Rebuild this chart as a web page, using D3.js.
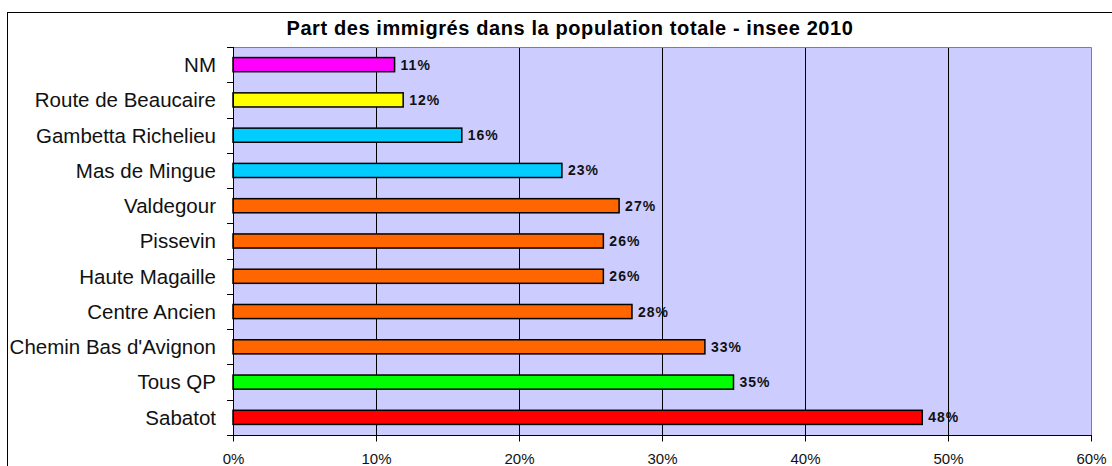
<!DOCTYPE html>
<html>
<head>
<meta charset="utf-8">
<script src="https://cdn.jsdelivr.net/npm/d3@7"></script>
<style>
  body { margin: 0; background: #fff; }
  svg { display: block; font-family: Arial, 'Liberation Sans', sans-serif; }
</style>
</head>
<body>
<div id="chart"></div>
<script>
// data, top to bottom
const categories = [
  'NM', 'Route de Beaucaire', 'Gambetta Richelieu', 'Mas de Mingue',
  'Valdegour', 'Pissevin', 'Haute Magaille', 'Centre Ancien',
  "Chemin Bas d'Avignon", 'Tous QP', 'Sabatot',
]
const shares = [11.3, 11.9, 16.0, 23.0, 27.0, 25.9, 25.9, 27.9, 33.0, 35.0, 48.2]
const barColors = [
  '#ff00ff', '#ffff00', '#00ccff', '#00ccff', '#ff6600', '#ff6600',
  '#ff6600', '#ff6600', '#ff6600', '#00ff00', '#ff0000',
]
const xTicks = [0, 10, 20, 30, 40, 50, 60]
const title = 'Part des immigrés dans la population totale - insee 2010'

const canvasWidth = 1112
const canvasHeight = 466
const plot = {left: 233, right: 1091, top: 47, bottom: 435}

const rows = categories.map((name, i) => ({name, value: shares[i], color: barColors[i]}))

const svg = d3
  .select('#chart')
  .append('svg')
  .attr('width', canvasWidth)
  .attr('height', canvasHeight)

// outer chart frame (runs off the right and bottom edges)
svg
  .append('rect')
  .attr('x', 7.5)
  .attr('y', 12.5)
  .attr('width', 1200)
  .attr('height', 600)
  .attr('fill', '#fff')
  .attr('stroke', '#000')

svg
  .append('text')
  .attr('x', 570)
  .attr('y', 35)
  .attr('text-anchor', 'middle')
  .attr('font-size', '20px')
  .attr('font-weight', 'bold')
  .attr('letter-spacing', '0.6px')
  .text(title)

const xScale = d3.scaleLinear().domain([0, 60]).range([plot.left, plot.right])
const yScale = d3
  .scaleBand()
  .domain(categories)
  .range([plot.top, plot.bottom])
  .paddingInner(0.6)
  .paddingOuter(0.3)

// plot area
svg
  .append('rect')
  .attr('x', plot.left)
  .attr('y', plot.top)
  .attr('width', plot.right - plot.left)
  .attr('height', plot.bottom - plot.top)
  .attr('fill', '#ccccff')

// gridlines
svg
  .append('g')
  .selectAll('line')
  .data(xTicks.slice(1, -1))
  .enter()
  .append('line')
  .attr('x1', d => Math.round(xScale(d)) + 0.5)
  .attr('x2', d => Math.round(xScale(d)) + 0.5)
  .attr('y1', plot.top)
  .attr('y2', plot.bottom)
  .attr('stroke', '#000')

// grey top and right border of the plot
svg
  .append('path')
  .attr('d', `M${plot.left},${plot.top + 0.5}H${plot.right + 0.5}V${plot.bottom}`)
  .attr('fill', 'none')
  .attr('stroke', '#808080')

// bars
svg
  .append('g')
  .selectAll('rect')
  .data(rows)
  .enter()
  .append('rect')
  .attr('x', xScale(0))
  .attr('y', d => yScale(d.name))
  .attr('width', d => xScale(d.value) - xScale(0))
  .attr('height', yScale.bandwidth())
  .attr('fill', d => d.color)
  .attr('stroke', '#000')
  .attr('stroke-width', 1.5)

// value labels
svg
  .append('g')
  .selectAll('text')
  .data(rows)
  .enter()
  .append('text')
  .attr('x', d => xScale(d.value) + 6)
  .attr('y', d => yScale(d.name) + yScale.bandwidth() / 2)
  .attr('dy', '0.36em')
  .attr('font-size', '14px')
  .attr('font-weight', 'bold')
  .attr('letter-spacing', '1px')
  .attr('fill', '#111')
  .text(d => `${Math.round(d.value)}%`)

// category axis: ticks sit on band boundaries
const boundaries = d3.range(categories.length + 1).map(i => plot.top + i * (plot.bottom - plot.top) / categories.length)

svg
  .append('g')
  .selectAll('line')
  .data(boundaries)
  .enter()
  .append('line')
  .attr('x1', plot.left - 6)
  .attr('x2', plot.left)
  .attr('y1', d => Math.round(d) + 0.5)
  .attr('y2', d => Math.round(d) + 0.5)
  .attr('stroke', '#000')

svg
  .append('line')
  .attr('x1', plot.left + 0.5)
  .attr('x2', plot.left + 0.5)
  .attr('y1', plot.top)
  .attr('y2', plot.bottom + 6)
  .attr('stroke', '#000')

svg
  .append('g')
  .selectAll('text')
  .data(categories)
  .enter()
  .append('text')
  .attr('x', 216)
  .attr('y', d => yScale(d) + yScale.bandwidth() / 2)
  .attr('dy', '0.36em')
  .attr('text-anchor', 'end')
  .attr('font-size', '20.5px')
  .attr('fill', '#111')
  .text(d => d)

// value axis
const xAxis = d3
  .axisBottom(xScale)
  .tickValues(xTicks)
  .tickSize(6)
  .tickFormat(d => `${d}%`)

const gx = svg
  .append('g')
  .attr('transform', `translate(0, ${plot.bottom + 0.5})`)
  .call(xAxis)

gx.select('.domain').attr('stroke', '#000').attr('d', `M${plot.left},0H${plot.right + 1}`)
gx.selectAll('.tick line').attr('stroke', '#000')
gx.selectAll('.tick text')
  .attr('font-family', 'Arial, Liberation Sans, sans-serif')
  .attr('font-size', '15px')
  .attr('fill', '#111')
  .attr('y', 28)
  .attr('dy', 0)
</script>
</body>
</html>
